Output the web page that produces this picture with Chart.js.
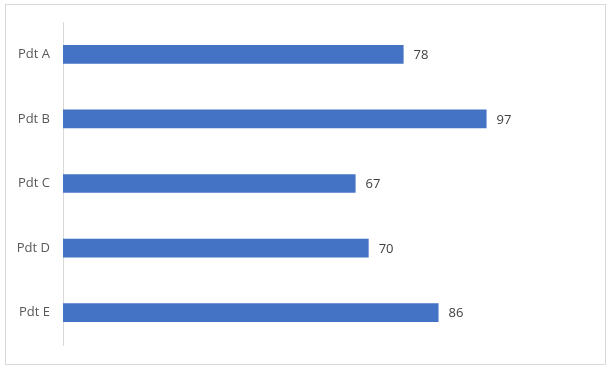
<!DOCTYPE html>
<html>
<head>
<meta charset="utf-8">
<script src="https://cdn.jsdelivr.net/npm/chart.js@4"></script>
<style>
  html, body { margin: 0; padding: 0; background: #fff; }
  #marco { position: absolute; left: 5px; top: 4px; width: 599px; height: 359px; border: 1px solid #d9d9d9; }
  #lienzo { position: absolute; left: 0; top: 0; width: 611px; height: 370px; }
</style>
</head>
<body>
<div id="marco"></div>
<div id="lienzo"><canvas id="grafico" width="611" height="370"></canvas></div>
<script>
// Datos del gráfico
const categorias = ['Pdt A', 'Pdt B', 'Pdt C', 'Pdt D', 'Pdt E'];
const valores = [78, 97, 67, 70, 86];

// Plugin sencillo para escribir el valor al final de cada barra
const etiquetasValor = {
    id: 'etiquetasValor',
    afterDatasetsDraw(chart) {
        const ctx = chart.ctx;
        const meta = chart.getDatasetMeta(0);
        ctx.save();
        ctx.font = '13px "Open Sans", sans-serif';
        ctx.fillStyle = '#404040';
        ctx.textAlign = 'left';
        ctx.textBaseline = 'middle';
        meta.data.forEach((barra, i) => {
            ctx.fillText(String(valores[i]), barra.x + 10, barra.y + 1);
        });
        ctx.restore();
    }
};

const ctx = document.getElementById('grafico').getContext('2d');
new Chart(ctx, {
    type: 'bar',
    data: {
        labels: categorias,
        datasets: [{
            data: valores,
            backgroundColor: '#4472c4',
            barPercentage: 0.29,
            categoryPercentage: 1
        }]
    },
    options: {
        indexAxis: 'y',
        responsive: false,
        animation: false,
        layout: { padding: { left: 0, top: 22, right: 24, bottom: 25 } },
        plugins: {
            legend: { display: false },
            tooltip: { enabled: false }
        },
        scales: {
            x: {
                display: false,
                min: 0,
                max: 120
            },
            y: {
                grid: { display: false, drawTicks: false },
                border: { display: true, color: '#d9d9d9', width: 1 },
                ticks: {
                    color: '#595959',
                    padding: 13,
                    font: { family: '"Open Sans", sans-serif', size: 13 }
                },
                afterFit(escala) { escala.width = 63; }
            }
        }
    },
    plugins: [etiquetasValor]
});
</script>
</body>
</html>
